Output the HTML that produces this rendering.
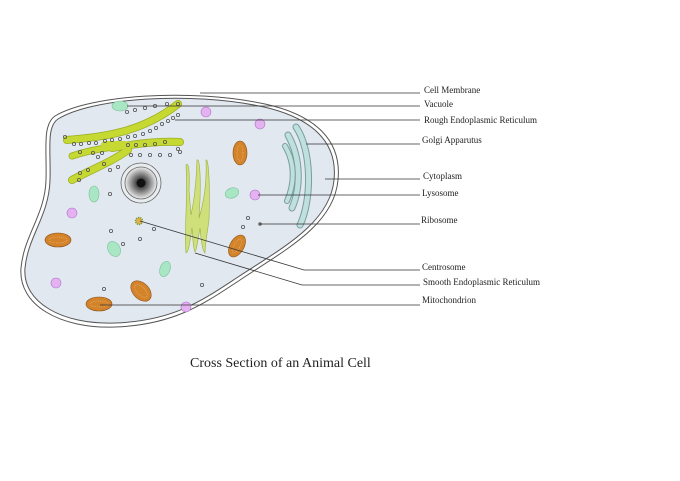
<!DOCTYPE html>
<html><head><meta charset="utf-8"><style>
html,body{margin:0;padding:0;background:#fff;}
svg{display:block;}
text{font-family:"Liberation Serif",serif;font-size:9px;fill:#222;}
</style></head><body>
<svg width="680" height="481" viewBox="0 0 680 481" xmlns="http://www.w3.org/2000/svg">
<!-- cell -->
<path d="M55,116 C90,95 190,88 265,104 C315,115 342,140 338,180 C334,225 285,250 240,280 C205,303 175,325 115,327 C60,329 18,305 21,268 C24,235 45,215 46,180 C47,150 42,125 55,116 Z" fill="#fff" stroke="#555" stroke-width="1"/>
<path d="M58,119 C92,98 190,91 264,107 C312,118 338,142 334,180 C330,223 282,248 238,277 C203,300 174,321 115,323 C62,325 22,302 25,268 C28,236 49,216 50,180 C51,151 46,127 58,119 Z" fill="#e1e8f0" stroke="#555" stroke-width="1"/>
<!-- RER -->
<g fill="none" stroke-linecap="round" stroke-linejoin="round">
<g stroke="#9aae20">
<path d="M67,140 C100,137 140,134 178,104" stroke-width="8"/>
<path d="M112,148 C140,143 160,141 180,142" stroke-width="8"/>
<path d="M72,180 C90,170 110,163 128,150" stroke-width="8"/>
<path d="M72,156 C90,150 105,148 122,146" stroke-width="7"/>
</g>
<g stroke="#c6d932">
<path d="M67,140 C100,137 140,134 178,104" stroke-width="6.5"/>
<path d="M112,148 C140,143 160,141 180,142" stroke-width="6.5"/>
<path d="M72,180 C90,170 110,163 128,150" stroke-width="6.5"/>
<path d="M72,156 C90,150 105,148 122,146" stroke-width="5.5"/>
<path d="M105,145 L125,145" stroke-width="8"/>
</g>
</g>
<g fill="none" stroke="#555" stroke-width="0.8">
<circle cx="65" cy="137" r="1.6"/><circle cx="74" cy="144" r="1.6"/><circle cx="81" cy="144" r="1.6"/><circle cx="89" cy="143" r="1.6"/><circle cx="96" cy="143" r="1.6"/><circle cx="105" cy="141" r="1.6"/><circle cx="112" cy="140" r="1.6"/><circle cx="120" cy="139" r="1.6"/><circle cx="128" cy="137" r="1.6"/><circle cx="135" cy="136" r="1.6"/><circle cx="143" cy="134" r="1.6"/><circle cx="150" cy="131" r="1.6"/><circle cx="156" cy="128" r="1.6"/><circle cx="162" cy="124" r="1.6"/><circle cx="168" cy="121" r="1.6"/><circle cx="173" cy="118" r="1.6"/><circle cx="178" cy="115" r="1.6"/>
<circle cx="127" cy="112" r="1.6"/><circle cx="135" cy="110" r="1.6"/><circle cx="145" cy="108" r="1.6"/><circle cx="155" cy="106" r="1.6"/><circle cx="167" cy="104" r="1.6"/><circle cx="178" cy="104" r="1.6"/>
<circle cx="80" cy="152" r="1.6"/><circle cx="93" cy="153" r="1.6"/><circle cx="102" cy="153" r="1.6"/><circle cx="128" cy="145" r="1.6"/><circle cx="136" cy="145" r="1.6"/><circle cx="145" cy="145" r="1.6"/><circle cx="155" cy="144" r="1.6"/><circle cx="165" cy="142" r="1.6"/><circle cx="178" cy="149" r="1.6"/>
<circle cx="131" cy="155" r="1.6"/><circle cx="140" cy="155" r="1.6"/><circle cx="150" cy="155" r="1.6"/><circle cx="160" cy="155" r="1.6"/><circle cx="170" cy="155" r="1.6"/><circle cx="180" cy="152" r="1.6"/>
<circle cx="98" cy="157" r="1.6"/><circle cx="88" cy="170" r="1.6"/><circle cx="80" cy="173" r="1.6"/><circle cx="104" cy="164" r="1.6"/><circle cx="110" cy="170" r="1.6"/><circle cx="118" cy="167" r="1.6"/><circle cx="79" cy="180" r="1.6"/>
<circle cx="110" cy="194" r="1.6"/><circle cx="111" cy="231" r="1.6"/><circle cx="140" cy="239" r="1.6"/><circle cx="154" cy="229" r="1.6"/><circle cx="123" cy="244" r="1.6"/><circle cx="104" cy="289" r="1.6"/><circle cx="202" cy="285" r="1.6"/><circle cx="248" cy="218" r="1.6"/><circle cx="243" cy="227" r="1.6"/>
</g>
<!-- nucleus -->
<defs><radialGradient id="ng"><stop offset="0" stop-color="#222"/><stop offset="0.35" stop-color="#555"/><stop offset="1" stop-color="#eee"/></radialGradient></defs>
<circle cx="141" cy="183" r="20" fill="#e8ecef" stroke="#666" stroke-width="0.8"/>
<circle cx="141" cy="183" r="16" fill="url(#ng)" stroke="#666" stroke-width="0.8"/>
<circle cx="141" cy="183" r="4.5" fill="#111"/>
<!-- SER -->
<path d="M186,253 C184,230 188,200 186,165 C188,162 190,168 189,190 L191,215 C193,205 196,190 197,160 C199,158 201,170 200,200 L199,218 C203,205 207,185 206,160 C209,158 210,190 209,220 C207,235 205,245 205,253 C202,250 201,238 200,228 C198,240 196,252 195,252 C193,248 193,238 192,228 C190,240 189,252 186,253 Z" fill="#cfe07a" stroke="#9aae40" stroke-width="0.6"/>
<!-- Golgi -->
<g fill="none" stroke-linecap="round">
<path d="M296,127 C312,150 312,200 300,225" stroke="#7a9e9e" stroke-width="7"/>
<path d="M296,127 C312,150 312,200 300,225" stroke="#bfe0dc" stroke-width="5"/>
<path d="M288,135 C302,160 300,190 292,208" stroke="#7a9e9e" stroke-width="7"/>
<path d="M288,135 C302,160 300,190 292,208" stroke="#bfe0dc" stroke-width="5"/>
<path d="M285,146 C296,165 294,185 287,201" stroke="#7a9e9e" stroke-width="6"/>
<path d="M285,146 C296,165 294,185 287,201" stroke="#bfe0dc" stroke-width="4"/>
</g>
<!-- vacuoles -->
<g fill="#a8e6c4" stroke="#7cc09c" stroke-width="0.6">
<ellipse cx="120" cy="106" rx="8" ry="5"/>
<ellipse cx="94" cy="194" rx="5" ry="8"/>
<ellipse cx="232" cy="193" rx="7" ry="5" transform="rotate(-20 232 193)"/>
<ellipse cx="114" cy="249" rx="6" ry="8" transform="rotate(-30 114 249)"/>
<ellipse cx="165" cy="269" rx="5" ry="8" transform="rotate(20 165 269)"/>
</g>
<!-- lysosomes -->
<g fill="#e4b2f0" stroke="#b070c8" stroke-width="0.6">
<circle cx="206" cy="112" r="5"/><circle cx="260" cy="124" r="5"/><circle cx="255" cy="195" r="5"/><circle cx="72" cy="213" r="5"/><circle cx="56" cy="283" r="5"/><circle cx="186" cy="307" r="5"/>
</g>
<!-- mitochondria -->
<g fill="#d3832a" stroke="#8a5018" stroke-width="0.6">
<ellipse cx="240" cy="153" rx="7" ry="12"/>
<ellipse cx="58" cy="240" rx="13" ry="7"/>
<ellipse cx="237" cy="246" rx="7" ry="12" transform="rotate(30 237 246)"/>
<ellipse cx="141" cy="291" rx="8" ry="12" transform="rotate(-45 141 291)"/>
<ellipse cx="99" cy="304" rx="13" ry="7"/>
</g>
<g fill="none" stroke="#f0c080" stroke-width="0.6" stroke-dasharray="1 1.2">
<ellipse cx="240" cy="153" rx="3" ry="8"/>
<ellipse cx="58" cy="240" rx="9" ry="3"/>
<ellipse cx="237" cy="246" rx="3" ry="8" transform="rotate(30 237 246)"/>
<ellipse cx="141" cy="291" rx="4" ry="8" transform="rotate(-45 141 291)"/>
<ellipse cx="99" cy="304" rx="9" ry="3"/>
</g>
<!-- centrosome -->
<circle cx="139" cy="221" r="3.5" fill="#e0b050" stroke="#6a9a30" stroke-width="1.4" stroke-dasharray="1.2 1"/>
<circle cx="260" cy="224" r="1.8" fill="#666"/>
<!-- leader lines -->
<g fill="none" stroke="#333" stroke-width="0.8">
<path d="M200,93 L420,93"/>
<path d="M127,106 L420,106"/>
<path d="M175,120 L420,120"/>
<path d="M306,144 L420,144"/>
<path d="M325,179 L420,179"/>
<path d="M258,195 L420,195"/>
<path d="M260,224 L420,224"/>
<path d="M140,221 L304,270 L420,270"/>
<path d="M195,253 L302,285 L420,285"/>
<path d="M100,305 L420,305"/>
</g>
<text x="424" y="93">Cell Membrane</text>
<text x="424" y="107">Vacuole</text>
<text x="424" y="123">Rough Endoplasmic Reticulum</text>
<text x="422" y="143">Golgi Apparutus</text>
<text x="423" y="179">Cytoplasm</text>
<text x="422" y="196">Lysosome</text>
<text x="421" y="223">Ribosome</text>
<text x="422" y="270">Centrosome</text>
<text x="423" y="285">Smooth Endoplasmic Reticulum</text>
<text x="422" y="303">Mitochondrion</text>
<text x="190" y="367" style="font-size:14px">Cross Section of an Animal Cell</text>
</svg>
</body></html>
